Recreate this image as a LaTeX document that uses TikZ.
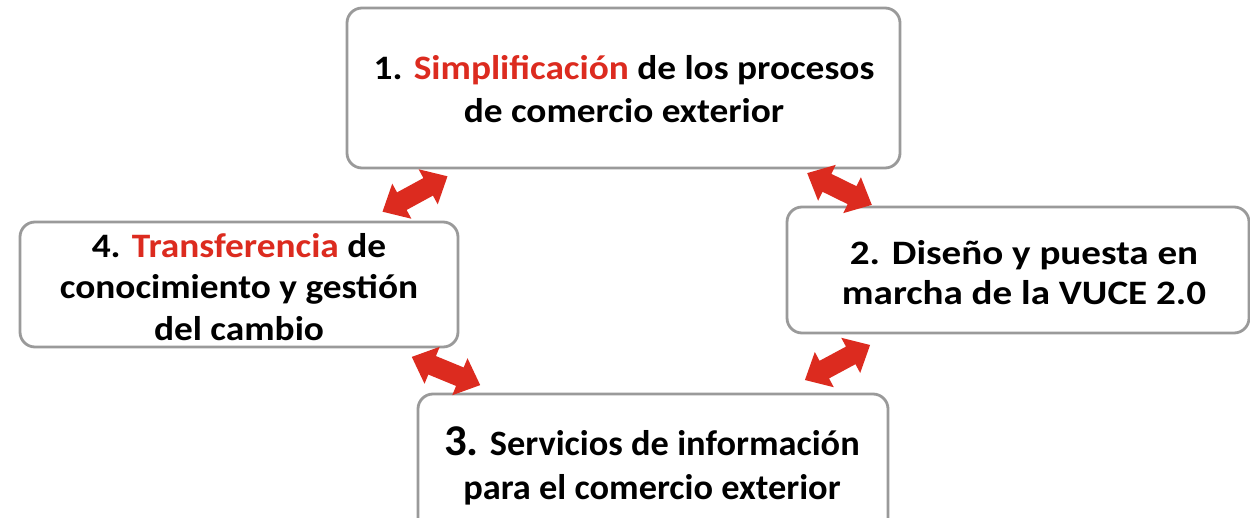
\documentclass[tikz,border=0pt]{standalone}
\usepackage{fontspec}
\setmainfont{Carlito}
\definecolor{accred}{HTML}{DC2B1F}
\definecolor{boxgray}{HTML}{9A9A9A}
\tikzset{
  stagebox/.style={draw=boxgray, line width=1.6pt, fill=white, rounded corners=0.3cm},
  stagetext/.style={align=center, inner sep=0pt},
  blockarr/.style={fill=accred, draw=none}
}
\newcommand{\rd}[1]{\textcolor{accred}{#1}}
\newcommand{\blockarrow}[3]{%
  \begin{scope}[shift={(#1)}, rotate=#2]
    \fill[blockarr] (-#3,0) -- (-#3+22,20) -- (-#3+22,10) -- (#3-22,10) -- (#3-22,20) -- (#3,0)
      -- (#3-22,-20) -- (#3-22,-10) -- (-#3+22,-10) -- (-#3+22,-20) -- cycle;
  \end{scope}}
\begin{document}
\begin{tikzpicture}[x=0.02cm, y=-0.02cm]
\clip (0,0) rectangle (1250,517);
\useasboundingbox (0,0) rectangle (1250,517);
% boxes
\draw[stagebox] (347,8) rectangle (900,168);
\draw[stagebox] (787,207) rectangle (1249,333);
\draw[stagebox] (418,394) rectangle (888,540);
\draw[stagebox] (20,222) rectangle (458,347);
% texts
\node[stagetext, xscale=1.09, font=\bfseries\fontsize{19.5}{24.4}\selectfont] (t1) at (624,89)
  {1. \rd{Simplificación} de los procesos\\de comercio exterior};
\node[stagetext, xscale=1.14, font=\bfseries\fontsize{19.5}{22.8}\selectfont] (t2) at (1024,273)
  {2. Diseño y puesta en\\marcha de la VUCE 2.0};
\node[stagetext, xscale=1.02, font=\bfseries\fontsize{20.3}{25}\selectfont] (t3) at (652,466)
  {{\fontsize{25}{25}\selectfont 3.} Servicios de información\\para el comercio exterior};
\node[stagetext, xscale=1.09, font=\bfseries\fontsize{19.5}{23.8}\selectfont] (t4) at (239,287)
  {4. \rd{Transferencia} de\\conocimiento y gestión\\del cambio};
% arrows
\coordinate (a1) at (415,194);
\coordinate (a2) at (839.5,189);
\coordinate (a3) at (446,371);
\coordinate (a4) at (837.5,362.5);
\blockarrow{a1}{28.6}{37}
\blockarrow{a2}{-26.2}{36}
\blockarrow{a3}{-22.4}{37}
\blockarrow{a4}{28.3}{37}
\end{tikzpicture}
\end{document}
